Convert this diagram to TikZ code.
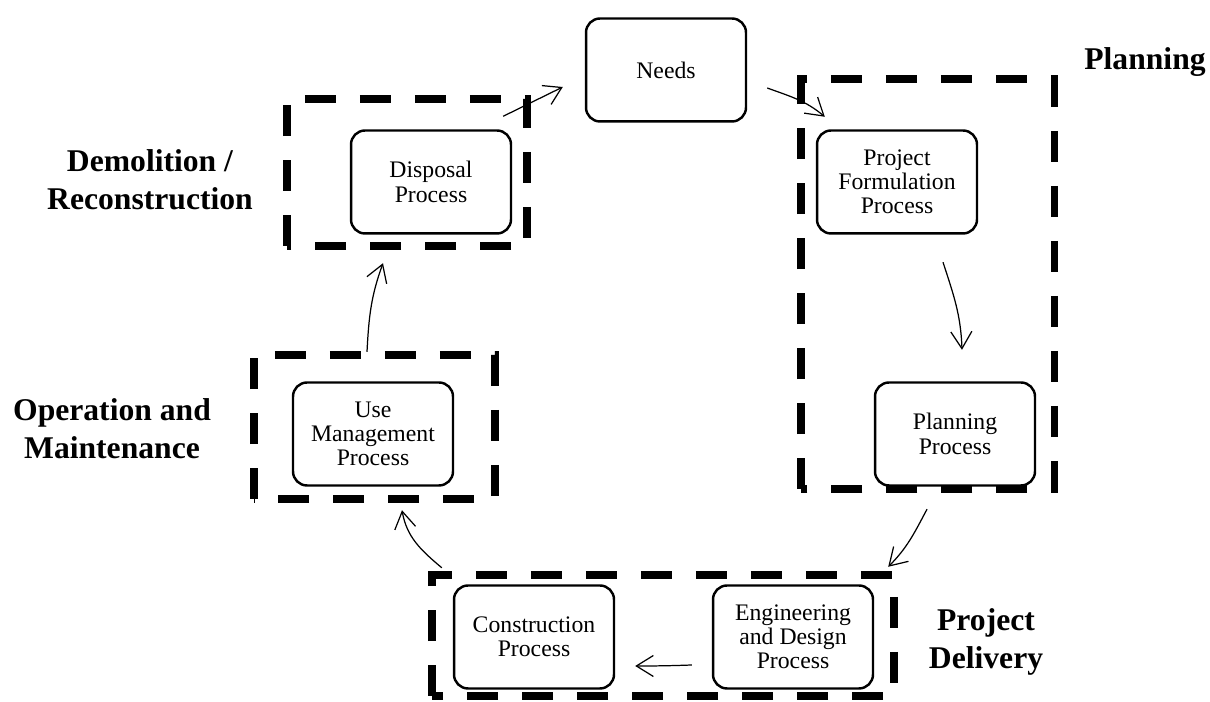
\documentclass[tikz,border=0pt]{standalone}
\usepackage{fontspec}
\setmainfont{Liberation Serif}
\usepackage{tikz}
\usetikzlibrary{arrows.meta}
\usetikzlibrary{calc}

\tikzset{
  proc/.style={draw,line width=1.4pt,rounded corners=.28cm,minimum width=3.2cm,minimum height=2.06cm,
    align=center,font=\fontsize{13.5}{13.8}\selectfont},
  phase/.style={align=center,font=\fontsize{18}{21.6}\selectfont\bfseries},
  frame/.style={line width=4pt,dash pattern=on .62cm off .48cm},
  link/.style={line width=.7pt,-{Straight Barb[length=.34cm,width=.42cm]}}
}

\begin{document}
\begin{tikzpicture}[x=.02cm,y=.02cm]
\useasboundingbox (0,0) rectangle (1210,702);

\node[proc] (needs) at (666,632) {Needs};
\node[proc] (disposal) at (431,520) {Disposal\\Process};
\node[proc] (formul) at (897,520) {Project\\Formulation\\Process};
\node[proc] (planproc) at (955,268) {Planning\\Process};
\node[proc] (usemgmt) at (373,268) {Use\\Management\\Process};
\node[proc] (constr) at (534,65) {Construction\\Process};
\node[proc] (engdes) at (793,65) {Engineering\\and Design\\Process};

\draw[frame] (287,456) rectangle (527,603);
\draw[frame] (801,213) rectangle (1054,623);
\draw[frame] (254,203) rectangle (495,347);
\draw[frame] (432,6) rectangle (894,127);

\node[phase] (lplan) at (1145,640) {Planning};
\node[phase] (ldemo) at (150,522) {Demolition /\\Reconstruction};
\node[phase] (loper) at (112,273) {Operation and\\Maintenance};
\node[phase] (ldeliv) at (986,60) {Project\\Delivery};

\draw[link] ([shift={(-9,13)}]disposal.north east) -- ([shift={(-22,-17)}]needs.west);
\draw[link] ([shift={(20,-18)}]needs.east) to[out=-20,in=140] ([shift={(9,12.5)}]formul.north west);
\draw[link] ([shift={(46,-27.5)}]formul.south) to[out=-72,in=92] ([shift={(7,31.5)}]planproc.north);
\draw[link] ([shift={(-28,-22.5)}]planproc.south) to[out=-118,in=45] ([shift={(14,17.5)}]engdes.north east);
\draw[link] ([shift={(-20,-28)}]engdes.west) to[out=182,in=0] ([shift={(20,-29)}]constr.east);
\draw[link] ([shift={(-11,16.5)}]constr.north west) to[out=140,in=-80] ([shift={(29,-23.5)}]usemgmt.south);
\draw[link] ([shift={(-6,29.5)}]usemgmt.north) to[out=87,in=-110] ([shift={(-48,-28.5)}]disposal.south);

\end{tikzpicture}
\end{document}
